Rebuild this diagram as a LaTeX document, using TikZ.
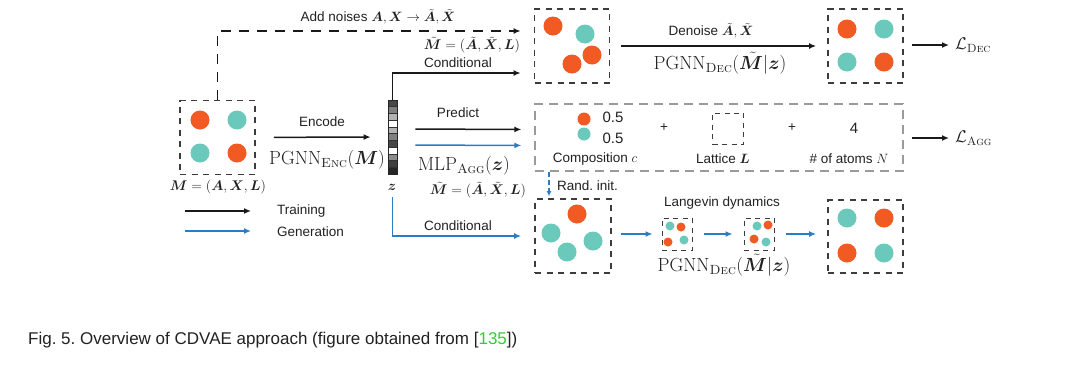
\RequirePackage{fix-cm}
\documentclass[tikz,border=0pt]{standalone}
\usepackage{amsmath,bm}
\usepackage{fontspec}
\setsansfont{Liberation Sans}
\usetikzlibrary{arrows.meta,calc}
\frenchspacing
\definecolor{orng}{HTML}{F15A22}
\definecolor{tealc}{HTML}{6BC9BC}
\definecolor{blu}{HTML}{2A7DC5}
\definecolor{dgray}{HTML}{3C3C3C}
\definecolor{lgray}{HTML}{9A9A9A}
\definecolor{txt}{HTML}{222222}
\definecolor{refgreen}{HTML}{33CC33}
\newcommand\lblfont{\sffamily\fontsize{13.5}{16}\selectfont}
\newcommand\smath{\fontsize{14}{16}\selectfont}
\newcommand\bmath{\fontsize{19}{22}\selectfont}
\newcommand\lossfont{\fontsize{17}{19}\selectfont}
\tikzset{
  cbox/.style={draw=dgray, line width=1.8pt, dash pattern=on 6pt off 5.5pt, minimum width=75pt, minimum height=74pt, inner sep=0pt},
  sbox/.style={draw=dgray, line width=1pt, dash pattern=on 5pt off 4.5pt, minimum width=30pt, minimum height=32pt, inner sep=0pt},
  pbox/.style={draw=lgray, line width=1.3pt, dash pattern=on 9pt off 6pt, minimum width=368pt, minimum height=67pt, inner sep=0pt},
  oc/.style={circle, fill=orng, minimum size=19pt, inner sep=0pt},
  tc/.style={circle, fill=tealc, minimum size=19pt, inner sep=0pt},
  osm/.style={circle, fill=orng, minimum size=9pt, inner sep=0pt},
  tsm/.style={circle, fill=tealc, minimum size=9pt, inner sep=0pt},
  lbl/.style={font=\lblfont, text=txt, inner sep=0pt},
  mlbl/.style={font=\smath, text=txt, inner sep=0pt},
  blbl/.style={font=\bmath, text=txt, inner sep=0pt},
  tarrow/.style={draw=black!90, line width=1.5pt, -{Latex[length=7pt,width=6pt]}},
  garrow/.style={draw=blu, line width=1.5pt, -{Latex[length=7pt,width=6pt]}},
  darrow/.style={draw=black!90, line width=1.5pt, dash pattern=on 10pt off 8pt, -{Latex[length=7pt,width=6pt]}},
}
\begin{document}
\begin{tikzpicture}[x=1pt,y=-1pt]
\useasboundingbox[fill=white] (0,0) rectangle (1080,370);

% input structure M
\node[cbox] (Mbox) at (217.5,137.5) {};
\node[oc] (m1) at (200,120) {};
\node[tc] (m2) at (237,120) {};
\node[tc] (m3) at (200,153) {};
\node[oc] (m4) at (237,153) {};
\node[mlbl] (Mlab) at (218,187) {$\bm{M}=(\bm{A},\bm{X},\bm{L})$};

% latent vector z
\foreach \i/\s in {0/72,1/50,2/30,3/0,4/30,5/50,6/72,7/0,8/45,9/75,10/85}{
  \filldraw[fill=black!\s, draw=black!80, line width=0.6pt] (388,{100+\i*6.727}) rectangle ++(9,6.727);
}
\node[draw=black!85, line width=0.8pt, minimum width=9pt, minimum height=74pt, inner sep=0pt] (zvec) at (392.5,137) {};
\node[mlbl] (zlab) at (392,187) {$\bm{z}$};

% encode
\draw[tarrow, shorten <=18pt, shorten >=17pt] (Mbox) -- (zvec);
\node[lbl] (enc) at (322,122) {Encode};
\node[blbl] (penc) at (327,160) {$\mathrm{PGNN}_{\text{\textsc{Enc}}}(\bm{M})$};

% top: noisy structure
\node[cbox] (noisy) at (572,46) {};
\node[oc] (n1) at (553,26) {};
\node[tc] (n2) at (585,34) {};
\node[oc] (n3) at (592,55) {};
\node[oc] (n4) at (572,64) {};

\draw[darrow, shorten >=13pt] (Mbox.north) |- ([yshift=15pt]noisy.west);
\node[lbl] (addn) at (378,17) {Add noises $\bm{A},\bm{X}\rightarrow\tilde{\bm{A}},\tilde{\bm{X}}$};
\node[mlbl] (mt1) at (472,45) {$\tilde{\bm{M}}=(\tilde{\bm{A}},\tilde{\bm{X}},\bm{L})$};

\draw[tarrow, shorten >=13pt] (zvec.north) |- ([yshift=-27pt]noisy.west);
\node[lbl] (cond1) at (458,63) {Conditional};

% denoise
\node[cbox] (clean1) at (865.5,46) {};
\node[oc] (c1) at (847,29) {};
\node[tc] (c2) at (884,29) {};
\node[tc] (c3) at (847,62) {};
\node[oc] (c4) at (884,62) {};
\draw[tarrow, shorten <=11pt, shorten >=11pt] (noisy.east) -- (clean1.west);
\node[lbl] (den) at (711,31) {Denoise $\tilde{\bm{A}},\tilde{\bm{X}}$};
\node[blbl] (pdec1) at (720,63) {$\mathrm{PGNN}_{\text{\textsc{Dec}}}(\tilde{\bm{M}}|\bm{z})$};

\node[font=\lossfont, text=txt, inner sep=0pt, anchor=west] (Ldec) at (955,45) {$\mathcal{L}_{\text{\textsc{Dec}}}$};
\draw[tarrow, shorten <=8pt, shorten >=6pt] (clean1.east |- Ldec.west) -- (Ldec.west);

% property prediction
\node[pbox] (prop) at (719,137.5) {};
\draw[tarrow, shorten <=18pt, shorten >=13pt] ([yshift=8pt]zvec.east) -- ([yshift=8pt]prop.west);
\draw[garrow, shorten <=18pt, shorten >=13pt] ([yshift=-8pt]zvec.east) -- ([yshift=-8pt]prop.west);
\node[lbl] (pred) at (458,113) {Predict};
\node[blbl] (mlp) at (464,166) {$\mathrm{MLP}_{\text{\textsc{Agg}}}(\bm{z})$};
\node[mlbl] (mt2) at (478,190) {$\tilde{\bm{M}}=(\tilde{\bm{A}},\tilde{\bm{X}},\bm{L})$};

\node[circle, fill=orng, minimum size=13pt, inner sep=0pt] (p1) at (584,119) {};
\node[circle, fill=tealc, minimum size=13pt, inner sep=0pt] (p2) at (584,134) {};
\node[lbl, font=\sffamily\fontsize{15}{17}\selectfont] (v1) at (613,117) {0.5};
\node[lbl, font=\sffamily\fontsize{15}{17}\selectfont] (v2) at (613,138) {0.5};
\node[lbl] (comp) at (595,159) {Composition $c$};
\node[lbl] (plus1) at (664,128) {+};
\node[sbox, minimum width=31pt, minimum height=31pt] (latt) at (728,128.5) {};
\node[lbl] (lattl) at (723,159) {Lattice $\bm{L}$};
\node[lbl] (plus2) at (792,128) {+};
\node[lbl, font=\sffamily\fontsize{15}{17}\selectfont] (four) at (854,128) {4};
\node[lbl] (natl) at (849,159) {\# of atoms $N$};

\node[font=\lossfont, text=txt, inner sep=0pt, anchor=west] (Lagg) at (955,138) {$\mathcal{L}_{\text{\textsc{Agg}}}$};
\draw[tarrow, shorten <=8pt, shorten >=6pt] (prop.east |- Lagg.west) -- (Lagg.west);

% generation
\node[cbox, minimum width=76pt] (noisy2) at (573,236) {};
\node[oc] (r1) at (577,214) {};
\node[tc] (r2) at (551,233) {};
\node[tc] (r3) at (593,241) {};
\node[tc] (r4) at (567,252) {};
\draw[blu, line width=1.3pt, dash pattern=on 5pt off 3pt, -{Latex[length=5pt,width=5pt]}, shorten >=2pt] ([xshift=-170pt]prop.south) -- ([xshift=-24pt]noisy2.north);
\node[lbl, anchor=west] (rinit) at (557,186) {Rand. init.};

\draw[garrow, shorten <=23pt, shorten >=13pt] (zvec.south) |- (noisy2.west);
\node[lbl] (cond2) at (458,226) {Conditional};

\node[sbox] (s1) at (677,234) {};
\node[tsm] at (670,226) {};
\node[osm] at (681,227) {};
\node[osm] at (668,242) {};
\node[tsm] at (684,240) {};
\node[sbox] (s2) at (759,234) {};
\node[tsm] at (757,226) {};
\node[osm] at (768,225) {};
\node[osm] at (754,239) {};
\node[tsm] at (766,242) {};

\node[cbox, minimum height=73pt] (clean2) at (865.5,236.5) {};
\node[tc] (g1) at (847,218) {};
\node[oc] (g2) at (884,218) {};
\node[oc] (g3) at (847,253) {};
\node[tc] (g4) at (884,253) {};

\draw[garrow, shorten <=9pt, shorten >=9pt] (noisy2.east |- s1.west) -- (s1.west);
\draw[garrow, shorten <=11pt, shorten >=11pt] (s1.east) -- (s2.west);
\draw[garrow, shorten <=11pt, shorten >=11pt] (s2.east) -- (clean2.west |- s2.east);
\node[lbl] (lang) at (722,203) {Langevin dynamics};
\node[blbl] (pdec2) at (724,265) {$\mathrm{PGNN}_{\text{\textsc{Dec}}}(\tilde{\bm{M}}|\bm{z})$};

% legend
\coordinate (lt1) at (185,211);
\coordinate (lt2) at (251,211);
\coordinate (lg1) at (185,231);
\coordinate (lg2) at (251,231);
\draw[tarrow] (lt1) -- (lt2);
\draw[garrow] (lg1) -- (lg2);
\node[lbl, anchor=west] (train) at (277,211) {Training};
\node[lbl, anchor=west] (gen) at (277,232) {Generation};

% caption
\node[font=\sffamily\fontsize{17}{20}\selectfont, text=txt, anchor=west, inner sep=0pt] (cap) at (28,340) {Fig. 5. Overview of CDVAE approach (figure obtained from [{\color{refgreen}135}])};
\end{tikzpicture}
\end{document}
